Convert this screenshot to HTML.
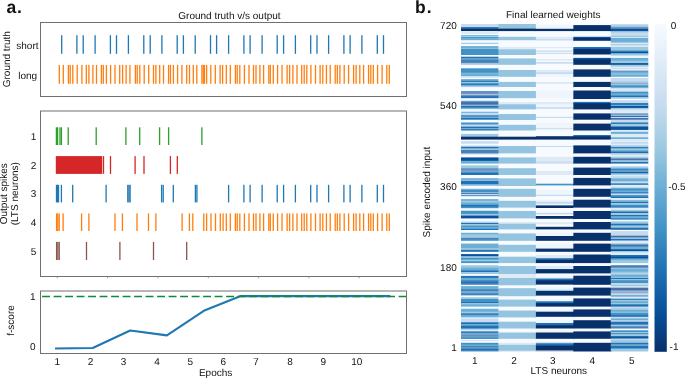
<!DOCTYPE html>
<html><head><meta charset="utf-8"><style>
html,body{margin:0;padding:0;background:#fff;}
body{width:685px;height:378px;overflow:hidden;}
svg{display:block;}
text{font-family:"Liberation Sans",sans-serif;text-rendering:geometricPrecision;}
svg{will-change:transform;}
</style></head><body>
<svg width="685" height="378" viewBox="0 0 685 378" font-family="Liberation Sans, sans-serif">
<rect width="685" height="378" fill="#fff"/>
<text x="6.4" y="12.7" font-size="17.5" text-anchor="start" font-weight="bold" fill="#111">a<tspan dx="0.9">.</tspan></text><text x="415.1" y="12.7" font-size="17.5" text-anchor="start" font-weight="bold" fill="#111">b<tspan dx="0.9">.</tspan></text><text x="178.3" y="18.7" font-size="10" text-anchor="start" fill="#111">Ground truth v/s output</text><text x="506.0" y="18.1" font-size="10" text-anchor="start" fill="#111">Final learned weights</text><rect x="61.05" y="35.2" width="1.3" height="18.60" fill="#1f77b4"/><rect x="76.25" y="35.2" width="1.3" height="18.60" fill="#1f77b4"/><rect x="82.55" y="35.2" width="1.3" height="18.60" fill="#1f77b4"/><rect x="94.45" y="35.2" width="1.3" height="18.60" fill="#1f77b4"/><rect x="109.75" y="35.2" width="1.3" height="18.60" fill="#1f77b4"/><rect x="115.85" y="35.2" width="1.3" height="18.60" fill="#1f77b4"/><rect x="127.75" y="35.2" width="1.3" height="18.60" fill="#1f77b4"/><rect x="143.15" y="35.2" width="1.3" height="18.60" fill="#1f77b4"/><rect x="149.55" y="35.2" width="1.3" height="18.60" fill="#1f77b4"/><rect x="161.25" y="35.2" width="1.3" height="18.60" fill="#1f77b4"/><rect x="176.55" y="35.2" width="1.3" height="18.60" fill="#1f77b4"/><rect x="182.75" y="35.2" width="1.3" height="18.60" fill="#1f77b4"/><rect x="194.55" y="35.2" width="1.3" height="18.60" fill="#1f77b4"/><rect x="209.85" y="35.2" width="1.3" height="18.60" fill="#1f77b4"/><rect x="215.95" y="35.2" width="1.3" height="18.60" fill="#1f77b4"/><rect x="227.95" y="35.2" width="1.3" height="18.60" fill="#1f77b4"/><rect x="243.25" y="35.2" width="1.3" height="18.60" fill="#1f77b4"/><rect x="249.45" y="35.2" width="1.3" height="18.60" fill="#1f77b4"/><rect x="261.45" y="35.2" width="1.3" height="18.60" fill="#1f77b4"/><rect x="276.55" y="35.2" width="1.3" height="18.60" fill="#1f77b4"/><rect x="282.95" y="35.2" width="1.3" height="18.60" fill="#1f77b4"/><rect x="294.75" y="35.2" width="1.3" height="18.60" fill="#1f77b4"/><rect x="310.05" y="35.2" width="1.3" height="18.60" fill="#1f77b4"/><rect x="316.35" y="35.2" width="1.3" height="18.60" fill="#1f77b4"/><rect x="327.95" y="35.2" width="1.3" height="18.60" fill="#1f77b4"/><rect x="343.25" y="35.2" width="1.3" height="18.60" fill="#1f77b4"/><rect x="349.45" y="35.2" width="1.3" height="18.60" fill="#1f77b4"/><rect x="361.25" y="35.2" width="1.3" height="18.60" fill="#1f77b4"/><rect x="376.65" y="35.2" width="1.3" height="18.60" fill="#1f77b4"/><rect x="382.85" y="35.2" width="1.3" height="18.60" fill="#1f77b4"/><rect x="58.65" y="64.9" width="1.3" height="18.90" fill="#ff7f0e"/><rect x="62.65" y="64.9" width="1.3" height="18.90" fill="#ff7f0e"/><rect x="67.75" y="64.9" width="1.3" height="18.90" fill="#ff7f0e"/><rect x="69.55" y="64.9" width="1.3" height="18.90" fill="#ff7f0e"/><rect x="72.15" y="64.9" width="1.3" height="18.90" fill="#ff7f0e"/><rect x="76.55" y="64.9" width="1.3" height="18.90" fill="#ff7f0e"/><rect x="81.25" y="64.9" width="1.3" height="18.90" fill="#ff7f0e"/><rect x="85.65" y="64.9" width="1.3" height="18.90" fill="#ff7f0e"/><rect x="88.25" y="64.9" width="1.3" height="18.90" fill="#ff7f0e"/><rect x="92.25" y="64.9" width="1.3" height="18.90" fill="#ff7f0e"/><rect x="95.85" y="64.9" width="1.3" height="18.90" fill="#ff7f0e"/><rect x="100.75" y="64.9" width="1.3" height="18.90" fill="#ff7f0e"/><rect x="102.65" y="64.9" width="1.3" height="18.90" fill="#ff7f0e"/><rect x="105.75" y="64.9" width="1.3" height="18.90" fill="#ff7f0e"/><rect x="109.95" y="64.9" width="1.3" height="18.90" fill="#ff7f0e"/><rect x="114.35" y="64.9" width="1.3" height="18.90" fill="#ff7f0e"/><rect x="119.05" y="64.9" width="1.3" height="18.90" fill="#ff7f0e"/><rect x="121.95" y="64.9" width="1.3" height="18.90" fill="#ff7f0e"/><rect x="125.45" y="64.9" width="1.3" height="18.90" fill="#ff7f0e"/><rect x="129.25" y="64.9" width="1.3" height="18.90" fill="#ff7f0e"/><rect x="134.75" y="64.9" width="1.3" height="18.90" fill="#ff7f0e"/><rect x="136.55" y="64.9" width="1.3" height="18.90" fill="#ff7f0e"/><rect x="139.15" y="64.9" width="1.3" height="18.90" fill="#ff7f0e"/><rect x="143.55" y="64.9" width="1.3" height="18.90" fill="#ff7f0e"/><rect x="148.05" y="64.9" width="1.3" height="18.90" fill="#ff7f0e"/><rect x="152.85" y="64.9" width="1.3" height="18.90" fill="#ff7f0e"/><rect x="155.25" y="64.9" width="1.3" height="18.90" fill="#ff7f0e"/><rect x="159.05" y="64.9" width="1.3" height="18.90" fill="#ff7f0e"/><rect x="162.85" y="64.9" width="1.3" height="18.90" fill="#ff7f0e"/><rect x="167.95" y="64.9" width="1.3" height="18.90" fill="#ff7f0e"/><rect x="169.85" y="64.9" width="1.3" height="18.90" fill="#ff7f0e"/><rect x="172.75" y="64.9" width="1.3" height="18.90" fill="#ff7f0e"/><rect x="176.95" y="64.9" width="1.3" height="18.90" fill="#ff7f0e"/><rect x="181.25" y="64.9" width="1.3" height="18.90" fill="#ff7f0e"/><rect x="186.05" y="64.9" width="1.3" height="18.90" fill="#ff7f0e"/><rect x="188.85" y="64.9" width="1.3" height="18.90" fill="#ff7f0e"/><rect x="192.65" y="64.9" width="1.3" height="18.90" fill="#ff7f0e"/><rect x="196.15" y="64.9" width="1.3" height="18.90" fill="#ff7f0e"/><rect x="201.25" y="64.9" width="1.3" height="18.90" fill="#ff7f0e"/><rect x="202.65" y="64.9" width="1.3" height="18.90" fill="#ff7f0e"/><rect x="203.75" y="64.9" width="1.3" height="18.90" fill="#ff7f0e"/><rect x="205.95" y="64.9" width="1.3" height="18.90" fill="#ff7f0e"/><rect x="210.15" y="64.9" width="1.3" height="18.90" fill="#ff7f0e"/><rect x="214.65" y="64.9" width="1.3" height="18.90" fill="#ff7f0e"/><rect x="219.45" y="64.9" width="1.3" height="18.90" fill="#ff7f0e"/><rect x="221.95" y="64.9" width="1.3" height="18.90" fill="#ff7f0e"/><rect x="225.65" y="64.9" width="1.3" height="18.90" fill="#ff7f0e"/><rect x="229.65" y="64.9" width="1.3" height="18.90" fill="#ff7f0e"/><rect x="234.75" y="64.9" width="1.3" height="18.90" fill="#ff7f0e"/><rect x="236.55" y="64.9" width="1.3" height="18.90" fill="#ff7f0e"/><rect x="239.15" y="64.9" width="1.3" height="18.90" fill="#ff7f0e"/><rect x="243.75" y="64.9" width="1.3" height="18.90" fill="#ff7f0e"/><rect x="248.35" y="64.9" width="1.3" height="18.90" fill="#ff7f0e"/><rect x="252.85" y="64.9" width="1.3" height="18.90" fill="#ff7f0e"/><rect x="255.35" y="64.9" width="1.3" height="18.90" fill="#ff7f0e"/><rect x="259.25" y="64.9" width="1.3" height="18.90" fill="#ff7f0e"/><rect x="262.95" y="64.9" width="1.3" height="18.90" fill="#ff7f0e"/><rect x="268.15" y="64.9" width="1.3" height="18.90" fill="#ff7f0e"/><rect x="269.65" y="64.9" width="1.3" height="18.90" fill="#ff7f0e"/><rect x="272.65" y="64.9" width="1.3" height="18.90" fill="#ff7f0e"/><rect x="276.95" y="64.9" width="1.3" height="18.90" fill="#ff7f0e"/><rect x="281.35" y="64.9" width="1.3" height="18.90" fill="#ff7f0e"/><rect x="286.45" y="64.9" width="1.3" height="18.90" fill="#ff7f0e"/><rect x="288.95" y="64.9" width="1.3" height="18.90" fill="#ff7f0e"/><rect x="292.25" y="64.9" width="1.3" height="18.90" fill="#ff7f0e"/><rect x="296.35" y="64.9" width="1.3" height="18.90" fill="#ff7f0e"/><rect x="301.05" y="64.9" width="1.3" height="18.90" fill="#ff7f0e"/><rect x="303.55" y="64.9" width="1.3" height="18.90" fill="#ff7f0e"/><rect x="306.15" y="64.9" width="1.3" height="18.90" fill="#ff7f0e"/><rect x="310.25" y="64.9" width="1.3" height="18.90" fill="#ff7f0e"/><rect x="314.85" y="64.9" width="1.3" height="18.90" fill="#ff7f0e"/><rect x="319.45" y="64.9" width="1.3" height="18.90" fill="#ff7f0e"/><rect x="322.15" y="64.9" width="1.3" height="18.90" fill="#ff7f0e"/><rect x="325.75" y="64.9" width="1.3" height="18.90" fill="#ff7f0e"/><rect x="329.55" y="64.9" width="1.3" height="18.90" fill="#ff7f0e"/><rect x="334.55" y="64.9" width="1.3" height="18.90" fill="#ff7f0e"/><rect x="336.65" y="64.9" width="1.3" height="18.90" fill="#ff7f0e"/><rect x="339.25" y="64.9" width="1.3" height="18.90" fill="#ff7f0e"/><rect x="343.55" y="64.9" width="1.3" height="18.90" fill="#ff7f0e"/><rect x="347.95" y="64.9" width="1.3" height="18.90" fill="#ff7f0e"/><rect x="352.95" y="64.9" width="1.3" height="18.90" fill="#ff7f0e"/><rect x="355.45" y="64.9" width="1.3" height="18.90" fill="#ff7f0e"/><rect x="359.15" y="64.9" width="1.3" height="18.90" fill="#ff7f0e"/><rect x="362.95" y="64.9" width="1.3" height="18.90" fill="#ff7f0e"/><rect x="367.95" y="64.9" width="1.3" height="18.90" fill="#ff7f0e"/><rect x="370.15" y="64.9" width="1.3" height="18.90" fill="#ff7f0e"/><rect x="372.65" y="64.9" width="1.3" height="18.90" fill="#ff7f0e"/><rect x="376.95" y="64.9" width="1.3" height="18.90" fill="#ff7f0e"/><rect x="381.45" y="64.9" width="1.3" height="18.90" fill="#ff7f0e"/><rect x="386.15" y="64.9" width="1.3" height="18.90" fill="#ff7f0e"/><rect x="388.65" y="64.9" width="1.3" height="18.90" fill="#ff7f0e"/><rect x="40.5" y="22.5" width="366.0" height="74.0" fill="none" stroke="#707070" stroke-width="1.0"/><text x="16.3" y="48.6" font-size="10" text-anchor="start" fill="#111">short</text><text x="18.2" y="79.0" font-size="10" text-anchor="start" fill="#111">long</text><text x="10.4" y="59.2" font-size="10" text-anchor="middle" fill="#111" transform="rotate(-90 10.4 59.2)">Ground truth</text><rect x="55.75" y="127.3" width="1.3" height="17.70" fill="#2ca02c"/><rect x="56.95" y="127.3" width="1.3" height="17.70" fill="#2ca02c"/><rect x="59.35" y="127.3" width="1.3" height="17.70" fill="#2ca02c"/><rect x="60.75" y="127.3" width="1.3" height="17.70" fill="#2ca02c"/><rect x="67.55" y="127.3" width="1.3" height="17.70" fill="#2ca02c"/><rect x="95.55" y="127.3" width="1.3" height="17.70" fill="#2ca02c"/><rect x="125.25" y="127.3" width="1.3" height="17.70" fill="#2ca02c"/><rect x="139.05" y="127.3" width="1.3" height="17.70" fill="#2ca02c"/><rect x="158.95" y="127.3" width="1.3" height="17.70" fill="#2ca02c"/><rect x="167.95" y="127.3" width="1.3" height="17.70" fill="#2ca02c"/><rect x="201.25" y="127.3" width="1.3" height="17.70" fill="#2ca02c"/><rect x="55.8" y="156.1" width="46.400000000000006" height="17.8" fill="#d62728"/><rect x="102.85" y="156.1" width="1.3" height="17.80" fill="#d62728"/><rect x="109.85" y="156.1" width="1.3" height="17.80" fill="#d62728"/><rect x="134.45" y="156.1" width="1.3" height="17.80" fill="#d62728"/><rect x="143.35" y="156.1" width="1.3" height="17.80" fill="#d62728"/><rect x="169.75" y="156.1" width="1.3" height="17.80" fill="#d62728"/><rect x="176.65" y="156.1" width="1.3" height="17.80" fill="#d62728"/><rect x="55.85" y="184.8" width="1.3" height="17.60" fill="#1f77b4"/><rect x="56.85" y="184.8" width="1.3" height="17.60" fill="#1f77b4"/><rect x="57.85" y="184.8" width="1.3" height="17.60" fill="#1f77b4"/><rect x="60.75" y="184.8" width="1.3" height="17.60" fill="#1f77b4"/><rect x="72.05" y="184.8" width="1.3" height="17.60" fill="#1f77b4"/><rect x="105.45" y="184.8" width="1.3" height="17.60" fill="#1f77b4"/><rect x="127.15" y="184.8" width="1.3" height="17.60" fill="#1f77b4"/><rect x="128.35" y="184.8" width="1.3" height="17.60" fill="#1f77b4"/><rect x="129.45" y="184.8" width="1.3" height="17.60" fill="#1f77b4"/><rect x="160.95" y="184.8" width="1.3" height="17.60" fill="#1f77b4"/><rect x="162.55" y="184.8" width="1.3" height="17.60" fill="#1f77b4"/><rect x="172.65" y="184.8" width="1.3" height="17.60" fill="#1f77b4"/><rect x="194.75" y="184.8" width="1.3" height="17.60" fill="#1f77b4"/><rect x="196.25" y="184.8" width="1.3" height="17.60" fill="#1f77b4"/><rect x="227.95" y="184.8" width="1.3" height="17.60" fill="#1f77b4"/><rect x="243.25" y="184.8" width="1.3" height="17.60" fill="#1f77b4"/><rect x="249.45" y="184.8" width="1.3" height="17.60" fill="#1f77b4"/><rect x="261.45" y="184.8" width="1.3" height="17.60" fill="#1f77b4"/><rect x="276.55" y="184.8" width="1.3" height="17.60" fill="#1f77b4"/><rect x="282.95" y="184.8" width="1.3" height="17.60" fill="#1f77b4"/><rect x="294.75" y="184.8" width="1.3" height="17.60" fill="#1f77b4"/><rect x="310.05" y="184.8" width="1.3" height="17.60" fill="#1f77b4"/><rect x="316.35" y="184.8" width="1.3" height="17.60" fill="#1f77b4"/><rect x="327.95" y="184.8" width="1.3" height="17.60" fill="#1f77b4"/><rect x="343.25" y="184.8" width="1.3" height="17.60" fill="#1f77b4"/><rect x="349.45" y="184.8" width="1.3" height="17.60" fill="#1f77b4"/><rect x="361.25" y="184.8" width="1.3" height="17.60" fill="#1f77b4"/><rect x="376.65" y="184.8" width="1.3" height="17.60" fill="#1f77b4"/><rect x="382.85" y="184.8" width="1.3" height="17.60" fill="#1f77b4"/><rect x="55.95" y="213.4" width="1.3" height="17.60" fill="#ff7f0e"/><rect x="57.15" y="213.4" width="1.3" height="17.60" fill="#ff7f0e"/><rect x="58.55" y="213.4" width="1.3" height="17.60" fill="#ff7f0e"/><rect x="62.45" y="213.4" width="1.3" height="17.60" fill="#ff7f0e"/><rect x="80.95" y="213.4" width="1.3" height="17.60" fill="#ff7f0e"/><rect x="88.25" y="213.4" width="1.3" height="17.60" fill="#ff7f0e"/><rect x="114.35" y="213.4" width="1.3" height="17.60" fill="#ff7f0e"/><rect x="121.75" y="213.4" width="1.3" height="17.60" fill="#ff7f0e"/><rect x="136.35" y="213.4" width="1.3" height="17.60" fill="#ff7f0e"/><rect x="147.85" y="213.4" width="1.3" height="17.60" fill="#ff7f0e"/><rect x="155.25" y="213.4" width="1.3" height="17.60" fill="#ff7f0e"/><rect x="181.45" y="213.4" width="1.3" height="17.60" fill="#ff7f0e"/><rect x="188.75" y="213.4" width="1.3" height="17.60" fill="#ff7f0e"/><rect x="192.15" y="213.4" width="1.3" height="17.60" fill="#ff7f0e"/><rect x="203.15" y="213.4" width="1.3" height="17.60" fill="#ff7f0e"/><rect x="205.95" y="213.4" width="1.3" height="17.60" fill="#ff7f0e"/><rect x="210.35" y="213.4" width="1.3" height="17.60" fill="#ff7f0e"/><rect x="214.85" y="213.4" width="1.3" height="17.60" fill="#ff7f0e"/><rect x="219.65" y="213.4" width="1.3" height="17.60" fill="#ff7f0e"/><rect x="222.45" y="213.4" width="1.3" height="17.60" fill="#ff7f0e"/><rect x="225.65" y="213.4" width="1.3" height="17.60" fill="#ff7f0e"/><rect x="229.65" y="213.4" width="1.3" height="17.60" fill="#ff7f0e"/><rect x="234.75" y="213.4" width="1.3" height="17.60" fill="#ff7f0e"/><rect x="236.55" y="213.4" width="1.3" height="17.60" fill="#ff7f0e"/><rect x="239.15" y="213.4" width="1.3" height="17.60" fill="#ff7f0e"/><rect x="243.75" y="213.4" width="1.3" height="17.60" fill="#ff7f0e"/><rect x="248.35" y="213.4" width="1.3" height="17.60" fill="#ff7f0e"/><rect x="252.85" y="213.4" width="1.3" height="17.60" fill="#ff7f0e"/><rect x="255.35" y="213.4" width="1.3" height="17.60" fill="#ff7f0e"/><rect x="259.25" y="213.4" width="1.3" height="17.60" fill="#ff7f0e"/><rect x="262.95" y="213.4" width="1.3" height="17.60" fill="#ff7f0e"/><rect x="268.15" y="213.4" width="1.3" height="17.60" fill="#ff7f0e"/><rect x="269.65" y="213.4" width="1.3" height="17.60" fill="#ff7f0e"/><rect x="272.65" y="213.4" width="1.3" height="17.60" fill="#ff7f0e"/><rect x="276.95" y="213.4" width="1.3" height="17.60" fill="#ff7f0e"/><rect x="281.35" y="213.4" width="1.3" height="17.60" fill="#ff7f0e"/><rect x="286.45" y="213.4" width="1.3" height="17.60" fill="#ff7f0e"/><rect x="288.95" y="213.4" width="1.3" height="17.60" fill="#ff7f0e"/><rect x="292.25" y="213.4" width="1.3" height="17.60" fill="#ff7f0e"/><rect x="296.35" y="213.4" width="1.3" height="17.60" fill="#ff7f0e"/><rect x="301.05" y="213.4" width="1.3" height="17.60" fill="#ff7f0e"/><rect x="303.55" y="213.4" width="1.3" height="17.60" fill="#ff7f0e"/><rect x="306.15" y="213.4" width="1.3" height="17.60" fill="#ff7f0e"/><rect x="310.25" y="213.4" width="1.3" height="17.60" fill="#ff7f0e"/><rect x="314.85" y="213.4" width="1.3" height="17.60" fill="#ff7f0e"/><rect x="319.45" y="213.4" width="1.3" height="17.60" fill="#ff7f0e"/><rect x="322.15" y="213.4" width="1.3" height="17.60" fill="#ff7f0e"/><rect x="325.75" y="213.4" width="1.3" height="17.60" fill="#ff7f0e"/><rect x="329.55" y="213.4" width="1.3" height="17.60" fill="#ff7f0e"/><rect x="334.55" y="213.4" width="1.3" height="17.60" fill="#ff7f0e"/><rect x="336.65" y="213.4" width="1.3" height="17.60" fill="#ff7f0e"/><rect x="339.25" y="213.4" width="1.3" height="17.60" fill="#ff7f0e"/><rect x="343.55" y="213.4" width="1.3" height="17.60" fill="#ff7f0e"/><rect x="347.95" y="213.4" width="1.3" height="17.60" fill="#ff7f0e"/><rect x="352.95" y="213.4" width="1.3" height="17.60" fill="#ff7f0e"/><rect x="355.45" y="213.4" width="1.3" height="17.60" fill="#ff7f0e"/><rect x="359.15" y="213.4" width="1.3" height="17.60" fill="#ff7f0e"/><rect x="362.95" y="213.4" width="1.3" height="17.60" fill="#ff7f0e"/><rect x="367.95" y="213.4" width="1.3" height="17.60" fill="#ff7f0e"/><rect x="370.15" y="213.4" width="1.3" height="17.60" fill="#ff7f0e"/><rect x="372.65" y="213.4" width="1.3" height="17.60" fill="#ff7f0e"/><rect x="376.95" y="213.4" width="1.3" height="17.60" fill="#ff7f0e"/><rect x="381.45" y="213.4" width="1.3" height="17.60" fill="#ff7f0e"/><rect x="386.15" y="213.4" width="1.3" height="17.60" fill="#ff7f0e"/><rect x="388.65" y="213.4" width="1.3" height="17.60" fill="#ff7f0e"/><rect x="55.95" y="241.9" width="1.3" height="18.10" fill="#8c564b"/><rect x="57.25" y="241.9" width="1.3" height="18.10" fill="#8c564b"/><rect x="58.55" y="241.9" width="1.3" height="18.10" fill="#8c564b"/><rect x="85.85" y="241.9" width="1.3" height="18.10" fill="#8c564b"/><rect x="119.25" y="241.9" width="1.3" height="18.10" fill="#8c564b"/><rect x="152.85" y="241.9" width="1.3" height="18.10" fill="#8c564b"/><rect x="186.05" y="241.9" width="1.3" height="18.10" fill="#8c564b"/><rect x="40.5" y="111.0" width="366.0" height="165.5" fill="none" stroke="#707070" stroke-width="1.0"/><rect x="56.8" y="276.6" width="1" height="1.6" fill="#999"/><rect x="107.1" y="276.6" width="1" height="1.6" fill="#999"/><rect x="157.5" y="276.6" width="1" height="1.6" fill="#999"/><rect x="207.8" y="276.6" width="1" height="1.6" fill="#999"/><rect x="258.1" y="276.6" width="1" height="1.6" fill="#999"/><rect x="308.4" y="276.6" width="1" height="1.6" fill="#999"/><rect x="358.7" y="276.6" width="1" height="1.6" fill="#999"/><text x="36.4" y="139.79999999999998" font-size="10" text-anchor="end" fill="#111">1</text><text x="36.4" y="168.6" font-size="10" text-anchor="end" fill="#111">2</text><text x="36.4" y="197.2" font-size="10" text-anchor="end" fill="#111">3</text><text x="36.4" y="225.79999999999998" font-size="10" text-anchor="end" fill="#111">4</text><text x="36.4" y="254.6" font-size="10" text-anchor="end" fill="#111">5</text><text x="7.0" y="193.7" font-size="10" text-anchor="middle" fill="#111" transform="rotate(-90 7.0 193.7)">Output spikes</text><text x="18.3" y="193.7" font-size="10" text-anchor="middle" fill="#111" transform="rotate(-90 18.3 193.7)">(LTS neurons)</text><polyline points="55,348.5 92.7,348.0 130.2,330.5 166.9,335.4 203.8,310.8 240.7,296.1 390.3,296.1" fill="none" stroke="#1f77b4" stroke-width="2.1" stroke-linejoin="round"/><line x1="42.1" y1="296.5" x2="406" y2="296.5" stroke="#0f8a3c" stroke-width="1.4" stroke-dasharray="7.9 3.6"/><rect x="40.5" y="291.0" width="366.0" height="62.5" fill="none" stroke="#707070" stroke-width="1.0"/><text x="35.6" y="300.0" font-size="10" text-anchor="end" fill="#111">1</text><text x="35.6" y="350.4" font-size="10" text-anchor="end" fill="#111">0</text><text x="13.6" y="320.5" font-size="10" text-anchor="middle" fill="#111" transform="rotate(-90 13.6 320.5)">f-score</text><text x="57.3" y="365.3" font-size="10" text-anchor="middle" fill="#111">1</text><text x="90.5" y="365.3" font-size="10" text-anchor="middle" fill="#111">2</text><text x="123.6" y="365.3" font-size="10" text-anchor="middle" fill="#111">3</text><text x="157.0" y="365.3" font-size="10" text-anchor="middle" fill="#111">4</text><text x="190.3" y="365.3" font-size="10" text-anchor="middle" fill="#111">5</text><text x="223.2" y="365.3" font-size="10" text-anchor="middle" fill="#111">6</text><text x="256.0" y="365.3" font-size="10" text-anchor="middle" fill="#111">7</text><text x="290.0" y="365.3" font-size="10" text-anchor="middle" fill="#111">8</text><text x="323.4" y="365.3" font-size="10" text-anchor="middle" fill="#111">9</text><text x="356.8" y="365.3" font-size="10" text-anchor="middle" fill="#111">10</text><text x="215.6" y="375.9" font-size="10" text-anchor="middle" fill="#111">Epochs</text><rect x="461.00" y="24.0" width="38.15" height="3.80" fill="#c6dbef"/><rect x="461.00" y="27.1" width="38.15" height="2.40" fill="#2171b5"/><rect x="461.00" y="28.8" width="38.15" height="3.00" fill="#08306b"/><rect x="461.00" y="31.1" width="38.15" height="1.60" fill="#f7fbff"/><rect x="461.00" y="32.0" width="38.15" height="2.70" fill="#deebf7"/><rect x="461.00" y="34.0" width="38.15" height="1.80" fill="#f7fbff"/><rect x="461.00" y="35.1" width="38.15" height="1.50" fill="#6baed6"/><rect x="461.00" y="35.9" width="38.15" height="1.60" fill="#c6dbef"/><rect x="461.00" y="36.8" width="38.15" height="1.60" fill="#4292c6"/><rect x="461.00" y="37.7" width="38.15" height="3.20" fill="#6baed6"/><rect x="461.00" y="40.2" width="38.15" height="3.30" fill="#f7fbff"/><rect x="461.00" y="42.8" width="38.15" height="1.80" fill="#9ecae1"/><rect x="461.00" y="43.9" width="38.15" height="2.90" fill="#f7fbff"/><rect x="461.00" y="46.1" width="38.15" height="2.60" fill="#6baed6"/><rect x="461.00" y="48.0" width="38.15" height="1.50" fill="#9ecae1"/><rect x="461.00" y="48.8" width="38.15" height="6.90" fill="#4292c6"/><rect x="461.00" y="55.0" width="38.15" height="2.40" fill="#f7fbff"/><rect x="461.00" y="56.7" width="38.15" height="2.20" fill="#2171b5"/><rect x="461.00" y="58.2" width="38.15" height="2.10" fill="#6baed6"/><rect x="461.00" y="59.6" width="38.15" height="4.00" fill="#4a7fb5"/><rect x="461.00" y="62.9" width="38.15" height="2.60" fill="#9ecae1"/><rect x="461.00" y="64.8" width="38.15" height="4.20" fill="#f7fbff"/><rect x="461.00" y="68.3" width="38.15" height="5.20" fill="#4292c6"/><rect x="461.00" y="72.8" width="38.15" height="1.30" fill="#9ecae1"/><rect x="461.00" y="73.4" width="38.15" height="3.50" fill="#6baed6"/><rect x="461.00" y="76.2" width="38.15" height="2.50" fill="#deebf7"/><rect x="461.00" y="78.0" width="38.15" height="1.80" fill="#f7fbff"/><rect x="461.00" y="79.1" width="38.15" height="2.40" fill="#6baed6"/><rect x="461.00" y="80.8" width="38.15" height="1.80" fill="#2171b5"/><rect x="461.00" y="81.9" width="38.15" height="2.20" fill="#9ecae1"/><rect x="461.00" y="83.4" width="38.15" height="2.10" fill="#2171b5"/><rect x="461.00" y="84.8" width="38.15" height="2.40" fill="#6baed6"/><rect x="461.00" y="86.5" width="38.15" height="1.50" fill="#deebf7"/><rect x="461.00" y="87.3" width="38.15" height="4.40" fill="#f7fbff"/><rect x="461.00" y="91.0" width="38.15" height="3.60" fill="#6b8fbf"/><rect x="461.00" y="93.9" width="38.15" height="1.80" fill="#9ecae1"/><rect x="461.00" y="95.0" width="38.15" height="1.90" fill="#6b8fbf"/><rect x="461.00" y="96.2" width="38.15" height="2.70" fill="#2171b5"/><rect x="461.00" y="98.2" width="38.15" height="3.20" fill="#f7fbff"/><rect x="461.00" y="100.7" width="38.15" height="1.80" fill="#6baed6"/><rect x="461.00" y="101.8" width="38.15" height="3.60" fill="#4a6fa8"/><rect x="461.00" y="104.7" width="38.15" height="1.80" fill="#9ecae1"/><rect x="461.00" y="105.8" width="38.15" height="2.50" fill="#2171b5"/><rect x="461.00" y="107.6" width="38.15" height="1.90" fill="#6baed6"/><rect x="461.00" y="108.8" width="38.15" height="1.30" fill="#c6dbef"/><rect x="461.00" y="109.4" width="38.15" height="3.00" fill="#f7fbff"/><rect x="461.00" y="111.7" width="38.15" height="1.80" fill="#6baed6"/><rect x="461.00" y="112.8" width="38.15" height="3.00" fill="#c6dbef"/><rect x="461.00" y="115.1" width="38.15" height="2.40" fill="#4292c6"/><rect x="461.00" y="116.8" width="38.15" height="1.90" fill="#6baed6"/><rect x="461.00" y="118.0" width="38.15" height="2.40" fill="#2171b5"/><rect x="461.00" y="119.7" width="38.15" height="3.50" fill="#f7fbff"/><rect x="461.00" y="122.5" width="38.15" height="2.70" fill="#4292c6"/><rect x="461.00" y="124.5" width="38.15" height="2.80" fill="#c6dbef"/><rect x="461.00" y="126.6" width="38.15" height="2.10" fill="#2171b5"/><rect x="461.00" y="128.0" width="38.15" height="1.90" fill="#6baed6"/><rect x="461.00" y="129.2" width="38.15" height="2.00" fill="#2171b5"/><rect x="461.00" y="130.5" width="38.15" height="4.10" fill="#f7fbff"/><rect x="461.00" y="133.9" width="38.15" height="3.50" fill="#9ecae1"/><rect x="461.00" y="136.7" width="38.15" height="3.60" fill="#08306b"/><rect x="461.00" y="139.6" width="38.15" height="2.40" fill="#f7fbff"/><rect x="461.00" y="141.3" width="38.15" height="3.10" fill="#c6dbef"/><rect x="461.00" y="143.7" width="38.15" height="2.40" fill="#f7fbff"/><rect x="461.00" y="145.4" width="38.15" height="2.10" fill="#c6dbef"/><rect x="461.00" y="146.8" width="38.15" height="2.20" fill="#2171b5"/><rect x="461.00" y="148.3" width="38.15" height="2.40" fill="#9ecae1"/><rect x="461.00" y="150.0" width="38.15" height="4.10" fill="#4a7fb5"/><rect x="461.00" y="153.4" width="38.15" height="1.80" fill="#c6dbef"/><rect x="461.00" y="154.5" width="38.15" height="3.60" fill="#f7fbff"/><rect x="461.00" y="157.4" width="38.15" height="4.10" fill="#08519c"/><rect x="461.00" y="160.8" width="38.15" height="3.50" fill="#6baed6"/><rect x="461.00" y="163.6" width="38.15" height="2.40" fill="#f7fbff"/><rect x="461.00" y="165.3" width="38.15" height="3.60" fill="#9ecae1"/><rect x="461.00" y="168.2" width="38.15" height="3.00" fill="#6b8fbf"/><rect x="461.00" y="170.5" width="38.15" height="2.70" fill="#6baed6"/><rect x="461.00" y="172.5" width="38.15" height="3.20" fill="#2171b5"/><rect x="461.00" y="175.0" width="38.15" height="4.10" fill="#f7fbff"/><rect x="461.00" y="178.4" width="38.15" height="1.90" fill="#4292c6"/><rect x="461.00" y="179.6" width="38.15" height="1.80" fill="#c6dbef"/><rect x="461.00" y="180.7" width="38.15" height="4.30" fill="#2171b5"/><rect x="461.00" y="184.3" width="38.15" height="2.40" fill="#9ecae1"/><rect x="461.00" y="186.0" width="38.15" height="3.50" fill="#f7fbff"/><rect x="461.00" y="188.8" width="38.15" height="2.40" fill="#6baed6"/><rect x="461.00" y="190.5" width="38.15" height="1.90" fill="#2171b5"/><rect x="461.00" y="191.7" width="38.15" height="1.80" fill="#9ecae1"/><rect x="461.00" y="192.8" width="38.15" height="1.90" fill="#4a7fb5"/><rect x="461.00" y="194.0" width="38.15" height="1.80" fill="#c6dbef"/><rect x="461.00" y="195.1" width="38.15" height="1.80" fill="#4292c6"/><rect x="461.00" y="196.2" width="38.15" height="3.60" fill="#f7fbff"/><rect x="461.00" y="199.1" width="38.15" height="2.40" fill="#6baed6"/><rect x="461.00" y="200.8" width="38.15" height="2.40" fill="#9ecae1"/><rect x="461.00" y="202.5" width="38.15" height="3.00" fill="#6baed6"/><rect x="461.00" y="204.8" width="38.15" height="2.40" fill="#2171b5"/><rect x="461.00" y="206.5" width="38.15" height="2.40" fill="#4292c6"/><rect x="461.00" y="208.2" width="38.15" height="2.40" fill="#f7fbff"/><rect x="461.00" y="209.9" width="38.15" height="1.80" fill="#c6dbef"/><rect x="461.00" y="211.0" width="38.15" height="3.60" fill="#4292c6"/><rect x="461.00" y="213.9" width="38.15" height="2.40" fill="#9ecae1"/><rect x="461.00" y="215.6" width="38.15" height="3.50" fill="#08519c"/><rect x="461.00" y="218.4" width="38.15" height="3.60" fill="#f7fbff"/><rect x="461.00" y="221.3" width="38.15" height="2.30" fill="#c6dbef"/><rect x="461.00" y="222.9" width="38.15" height="1.80" fill="#2171b5"/><rect x="461.00" y="224.0" width="38.15" height="2.30" fill="#9ecae1"/><rect x="461.00" y="225.6" width="38.15" height="1.90" fill="#4292c6"/><rect x="461.00" y="226.8" width="38.15" height="2.70" fill="#6baed6"/><rect x="461.00" y="228.8" width="38.15" height="1.90" fill="#2171b5"/><rect x="461.00" y="230.0" width="38.15" height="3.50" fill="#f7fbff"/><rect x="461.00" y="232.8" width="38.15" height="2.20" fill="#6baed6"/><rect x="461.00" y="234.3" width="38.15" height="4.30" fill="#9ecae1"/><rect x="461.00" y="237.9" width="38.15" height="1.90" fill="#4a7fb5"/><rect x="461.00" y="239.1" width="38.15" height="2.40" fill="#4292c6"/><rect x="461.00" y="240.8" width="38.15" height="3.50" fill="#f7fbff"/><rect x="461.00" y="243.6" width="38.15" height="5.30" fill="#6baed6"/><rect x="461.00" y="248.2" width="38.15" height="2.40" fill="#9ecae1"/><rect x="461.00" y="249.9" width="38.15" height="2.60" fill="#2171b5"/><rect x="461.00" y="251.8" width="38.15" height="3.00" fill="#f7fbff"/><rect x="461.00" y="254.1" width="38.15" height="2.80" fill="#08519c"/><rect x="461.00" y="256.2" width="38.15" height="2.40" fill="#9ecae1"/><rect x="461.00" y="257.9" width="38.15" height="2.40" fill="#4292c6"/><rect x="461.00" y="259.6" width="38.15" height="2.40" fill="#9ecae1"/><rect x="461.00" y="261.3" width="38.15" height="2.50" fill="#4292c6"/><rect x="461.00" y="263.1" width="38.15" height="2.80" fill="#f7fbff"/><rect x="461.00" y="265.2" width="38.15" height="3.20" fill="#9ecae1"/><rect x="461.00" y="267.7" width="38.15" height="3.50" fill="#6baed6"/><rect x="461.00" y="270.5" width="38.15" height="2.20" fill="#2171b5"/><rect x="461.00" y="272.0" width="38.15" height="2.70" fill="#9ecae1"/><rect x="461.00" y="274.0" width="38.15" height="2.60" fill="#f7fbff"/><rect x="461.00" y="275.9" width="38.15" height="2.70" fill="#2171b5"/><rect x="461.00" y="277.9" width="38.15" height="2.80" fill="#6baed6"/><rect x="461.00" y="280.0" width="38.15" height="2.30" fill="#4292c6"/><rect x="461.00" y="281.6" width="38.15" height="2.20" fill="#2171b5"/><rect x="461.00" y="283.1" width="38.15" height="2.40" fill="#4a7fb5"/><rect x="461.00" y="284.8" width="38.15" height="2.00" fill="#f7fbff"/><rect x="461.00" y="286.1" width="38.15" height="3.90" fill="#6baed6"/><rect x="461.00" y="289.3" width="38.15" height="2.40" fill="#4a7fb5"/><rect x="461.00" y="291.0" width="38.15" height="3.00" fill="#6baed6"/><rect x="461.00" y="293.3" width="38.15" height="2.40" fill="#4a7fb5"/><rect x="461.00" y="295.0" width="38.15" height="1.50" fill="#9ecae1"/><rect x="461.00" y="295.8" width="38.15" height="2.10" fill="#f7fbff"/><rect x="461.00" y="297.2" width="38.15" height="2.50" fill="#9ecae1"/><rect x="461.00" y="299.0" width="38.15" height="3.70" fill="#4292c6"/><rect x="461.00" y="302.0" width="38.15" height="1.80" fill="#2171b5"/><rect x="461.00" y="303.1" width="38.15" height="1.90" fill="#9ecae1"/><rect x="461.00" y="304.3" width="38.15" height="3.00" fill="#6baed6"/><rect x="461.00" y="306.6" width="38.15" height="2.90" fill="#f7fbff"/><rect x="461.00" y="308.8" width="38.15" height="3.60" fill="#6baed6"/><rect x="461.00" y="311.7" width="38.15" height="2.40" fill="#9ecae1"/><rect x="461.00" y="313.4" width="38.15" height="2.10" fill="#2171b5"/><rect x="461.00" y="314.8" width="38.15" height="3.30" fill="#6baed6"/><rect x="461.00" y="317.4" width="38.15" height="1.80" fill="#f7fbff"/><rect x="461.00" y="318.5" width="38.15" height="4.50" fill="#c6dbef"/><rect x="461.00" y="322.3" width="38.15" height="2.40" fill="#2171b5"/><rect x="461.00" y="324.0" width="38.15" height="2.40" fill="#6baed6"/><rect x="461.00" y="325.7" width="38.15" height="3.50" fill="#2171b5"/><rect x="461.00" y="328.5" width="38.15" height="1.90" fill="#9ecae1"/><rect x="461.00" y="329.7" width="38.15" height="2.40" fill="#deebf7"/><rect x="461.00" y="331.4" width="38.15" height="2.10" fill="#2171b5"/><rect x="461.00" y="332.8" width="38.15" height="2.70" fill="#6baed6"/><rect x="461.00" y="334.8" width="38.15" height="2.40" fill="#6b8fbf"/><rect x="461.00" y="336.5" width="38.15" height="1.90" fill="#6baed6"/><rect x="461.00" y="337.7" width="38.15" height="1.80" fill="#2171b5"/><rect x="461.00" y="338.8" width="38.15" height="2.20" fill="#f7fbff"/><rect x="461.00" y="340.3" width="38.15" height="1.50" fill="#c6dbef"/><rect x="461.00" y="341.1" width="38.15" height="2.40" fill="#f7fbff"/><rect x="461.00" y="342.8" width="38.15" height="2.40" fill="#4292c6"/><rect x="461.00" y="344.5" width="38.15" height="2.20" fill="#6baed6"/><rect x="461.00" y="346.0" width="38.15" height="2.00" fill="#4a7fb5"/><rect x="461.00" y="347.3" width="38.15" height="1.90" fill="#6baed6"/><rect x="461.00" y="348.5" width="38.15" height="3.00" fill="#2171b5"/><rect x="461.00" y="350.8" width="38.15" height="0.70" fill="#c6dbef"/><rect x="498.45" y="24.0" width="38.15" height="5.30" fill="#94c4df"/><rect x="498.45" y="28.6" width="38.15" height="3.20" fill="#08306b"/><rect x="498.45" y="31.1" width="38.15" height="6.40" fill="#f7fbff"/><rect x="498.45" y="36.8" width="38.15" height="4.10" fill="#94c4df"/><rect x="498.45" y="40.2" width="38.15" height="7.50" fill="#f7fbff"/><rect x="498.45" y="47.0" width="38.15" height="3.00" fill="#deebf7"/><rect x="498.45" y="49.3" width="38.15" height="6.40" fill="#94c4df"/><rect x="498.45" y="55.0" width="38.15" height="4.10" fill="#f7fbff"/><rect x="498.45" y="58.4" width="38.15" height="7.10" fill="#94c4df"/><rect x="498.45" y="64.8" width="38.15" height="5.90" fill="#f7fbff"/><rect x="498.45" y="70.0" width="38.15" height="7.50" fill="#94c4df"/><rect x="498.45" y="76.8" width="38.15" height="5.80" fill="#f7fbff"/><rect x="498.45" y="81.9" width="38.15" height="5.80" fill="#94c4df"/><rect x="498.45" y="87.0" width="38.15" height="4.70" fill="#f7fbff"/><rect x="498.45" y="91.0" width="38.15" height="7.90" fill="#94c4df"/><rect x="498.45" y="98.2" width="38.15" height="4.50" fill="#f7fbff"/><rect x="498.45" y="102.0" width="38.15" height="3.00" fill="#deebf7"/><rect x="498.45" y="104.3" width="38.15" height="5.80" fill="#94c4df"/><rect x="498.45" y="109.4" width="38.15" height="5.30" fill="#f7fbff"/><rect x="498.45" y="114.0" width="38.15" height="6.70" fill="#94c4df"/><rect x="498.45" y="120.0" width="38.15" height="5.50" fill="#f7fbff"/><rect x="498.45" y="124.8" width="38.15" height="6.40" fill="#94c4df"/><rect x="498.45" y="130.5" width="38.15" height="6.90" fill="#f7fbff"/><rect x="498.45" y="136.7" width="38.15" height="3.60" fill="#08306b"/><rect x="498.45" y="139.6" width="38.15" height="7.10" fill="#f7fbff"/><rect x="498.45" y="146.0" width="38.15" height="8.10" fill="#94c4df"/><rect x="498.45" y="153.4" width="38.15" height="4.70" fill="#f7fbff"/><rect x="498.45" y="157.4" width="38.15" height="6.90" fill="#94c4df"/><rect x="498.45" y="163.6" width="38.15" height="5.30" fill="#f7fbff"/><rect x="498.45" y="168.2" width="38.15" height="7.50" fill="#94c4df"/><rect x="498.45" y="175.0" width="38.15" height="4.10" fill="#f7fbff"/><rect x="498.45" y="178.4" width="38.15" height="8.30" fill="#94c4df"/><rect x="498.45" y="186.0" width="38.15" height="3.50" fill="#f7fbff"/><rect x="498.45" y="188.8" width="38.15" height="8.70" fill="#94c4df"/><rect x="498.45" y="196.8" width="38.15" height="4.70" fill="#f7fbff"/><rect x="498.45" y="200.8" width="38.15" height="7.50" fill="#94c4df"/><rect x="498.45" y="207.6" width="38.15" height="4.10" fill="#f7fbff"/><rect x="498.45" y="211.0" width="38.15" height="8.10" fill="#94c4df"/><rect x="498.45" y="218.4" width="38.15" height="4.30" fill="#f7fbff"/><rect x="498.45" y="222.0" width="38.15" height="2.40" fill="#deebf7"/><rect x="498.45" y="223.7" width="38.15" height="6.40" fill="#94c4df"/><rect x="498.45" y="229.4" width="38.15" height="4.70" fill="#f7fbff"/><rect x="498.45" y="233.4" width="38.15" height="8.10" fill="#94c4df"/><rect x="498.45" y="240.8" width="38.15" height="4.70" fill="#f7fbff"/><rect x="498.45" y="244.8" width="38.15" height="7.70" fill="#94c4df"/><rect x="498.45" y="251.8" width="38.15" height="5.60" fill="#f7fbff"/><rect x="498.45" y="256.7" width="38.15" height="7.10" fill="#94c4df"/><rect x="498.45" y="263.1" width="38.15" height="3.60" fill="#f7fbff"/><rect x="498.45" y="266.0" width="38.15" height="8.70" fill="#94c4df"/><rect x="498.45" y="274.0" width="38.15" height="4.70" fill="#deebf7"/><rect x="498.45" y="278.0" width="38.15" height="8.00" fill="#94c4df"/><rect x="498.45" y="285.3" width="38.15" height="3.60" fill="#f7fbff"/><rect x="498.45" y="288.2" width="38.15" height="8.70" fill="#94c4df"/><rect x="498.45" y="296.2" width="38.15" height="4.10" fill="#f7fbff"/><rect x="498.45" y="299.6" width="38.15" height="7.70" fill="#94c4df"/><rect x="498.45" y="306.6" width="38.15" height="4.60" fill="#f7fbff"/><rect x="498.45" y="310.5" width="38.15" height="7.60" fill="#94c4df"/><rect x="498.45" y="317.4" width="38.15" height="5.00" fill="#f7fbff"/><rect x="498.45" y="321.7" width="38.15" height="7.50" fill="#94c4df"/><rect x="498.45" y="328.5" width="38.15" height="4.70" fill="#f7fbff"/><rect x="498.45" y="332.5" width="38.15" height="7.00" fill="#94c4df"/><rect x="498.45" y="338.8" width="38.15" height="4.70" fill="#f7fbff"/><rect x="498.45" y="342.8" width="38.15" height="2.70" fill="#deebf7"/><rect x="498.45" y="344.8" width="38.15" height="6.70" fill="#94c4df"/><rect x="498.45" y="350.8" width="38.15" height="0.70" fill="#f7fbff"/><rect x="535.90" y="24.0" width="38.15" height="1.80" fill="#f7fbff"/><rect x="535.90" y="25.1" width="38.15" height="4.40" fill="#eef5fc"/><rect x="535.90" y="28.8" width="38.15" height="3.00" fill="#08306b"/><rect x="535.90" y="31.1" width="38.15" height="6.40" fill="#f7fbff"/><rect x="535.90" y="36.8" width="38.15" height="2.80" fill="#deebf7"/><rect x="535.90" y="38.9" width="38.15" height="2.30" fill="#c6dbef"/><rect x="535.90" y="40.5" width="38.15" height="7.20" fill="#f7fbff"/><rect x="535.90" y="47.0" width="38.15" height="1.90" fill="#deebf7"/><rect x="535.90" y="48.2" width="38.15" height="3.00" fill="#f7fbff"/><rect x="535.90" y="50.5" width="38.15" height="2.00" fill="#c6dbef"/><rect x="535.90" y="51.8" width="38.15" height="1.70" fill="#f7fbff"/><rect x="535.90" y="52.8" width="38.15" height="1.80" fill="#c6dbef"/><rect x="535.90" y="53.9" width="38.15" height="5.80" fill="#f7fbff"/><rect x="535.90" y="59.0" width="38.15" height="2.40" fill="#deebf7"/><rect x="535.90" y="60.7" width="38.15" height="2.00" fill="#f7fbff"/><rect x="535.90" y="62.0" width="38.15" height="2.40" fill="#c6dbef"/><rect x="535.90" y="63.7" width="38.15" height="7.00" fill="#f7fbff"/><rect x="535.90" y="70.0" width="38.15" height="3.00" fill="#deebf7"/><rect x="535.90" y="72.3" width="38.15" height="2.40" fill="#c6dbef"/><rect x="535.90" y="74.0" width="38.15" height="3.50" fill="#eef5fc"/><rect x="535.90" y="76.8" width="38.15" height="6.40" fill="#f7fbff"/><rect x="535.90" y="82.5" width="38.15" height="1.80" fill="#c6dbef"/><rect x="535.90" y="83.6" width="38.15" height="7.60" fill="#f7fbff"/><rect x="535.90" y="90.5" width="38.15" height="8.60" fill="#eef5fc"/><rect x="535.90" y="98.4" width="38.15" height="4.30" fill="#f7fbff"/><rect x="535.90" y="102.0" width="38.15" height="3.00" fill="#deebf7"/><rect x="535.90" y="104.3" width="38.15" height="3.50" fill="#eef5fc"/><rect x="535.90" y="107.1" width="38.15" height="2.40" fill="#c6dbef"/><rect x="535.90" y="108.8" width="38.15" height="8.70" fill="#f7fbff"/><rect x="535.90" y="116.8" width="38.15" height="1.90" fill="#c6dbef"/><rect x="535.90" y="118.0" width="38.15" height="5.70" fill="#f7fbff"/><rect x="535.90" y="123.0" width="38.15" height="5.90" fill="#eef5fc"/><rect x="535.90" y="128.2" width="38.15" height="1.80" fill="#c6dbef"/><rect x="535.90" y="129.3" width="38.15" height="7.60" fill="#f7fbff"/><rect x="535.90" y="136.2" width="38.15" height="4.10" fill="#08306b"/><rect x="535.90" y="139.6" width="38.15" height="7.10" fill="#f7fbff"/><rect x="535.90" y="146.0" width="38.15" height="1.80" fill="#c6dbef"/><rect x="535.90" y="147.1" width="38.15" height="10.40" fill="#f7fbff"/><rect x="535.90" y="156.8" width="38.15" height="5.40" fill="#deebf7"/><rect x="535.90" y="161.5" width="38.15" height="2.80" fill="#c6dbef"/><rect x="535.90" y="163.6" width="38.15" height="8.10" fill="#f7fbff"/><rect x="535.90" y="171.0" width="38.15" height="4.70" fill="#deebf7"/><rect x="535.90" y="175.0" width="38.15" height="9.40" fill="#f7fbff"/><rect x="535.90" y="183.7" width="38.15" height="2.40" fill="#4292c6"/><rect x="535.90" y="185.4" width="38.15" height="5.30" fill="#f7fbff"/><rect x="535.90" y="190.0" width="38.15" height="5.50" fill="#eef5fc"/><rect x="535.90" y="194.8" width="38.15" height="1.90" fill="#c6dbef"/><rect x="535.90" y="196.0" width="38.15" height="5.30" fill="#f7fbff"/><rect x="535.90" y="200.6" width="38.15" height="2.10" fill="#deebf7"/><rect x="535.90" y="202.0" width="38.15" height="2.50" fill="#c6dbef"/><rect x="535.90" y="203.8" width="38.15" height="2.30" fill="#eef5fc"/><rect x="535.90" y="205.4" width="38.15" height="3.30" fill="#08306b"/><rect x="535.90" y="208.0" width="38.15" height="5.50" fill="#f7fbff"/><rect x="535.90" y="212.8" width="38.15" height="2.30" fill="#c6dbef"/><rect x="535.90" y="214.4" width="38.15" height="2.30" fill="#f7fbff"/><rect x="535.90" y="216.0" width="38.15" height="3.50" fill="#08306b"/><rect x="535.90" y="218.8" width="38.15" height="3.90" fill="#f7fbff"/><rect x="535.90" y="222.0" width="38.15" height="3.00" fill="#deebf7"/><rect x="535.90" y="224.3" width="38.15" height="3.20" fill="#f7fbff"/><rect x="535.90" y="226.8" width="38.15" height="3.30" fill="#08306b"/><rect x="535.90" y="229.4" width="38.15" height="4.10" fill="#f7fbff"/><rect x="535.90" y="232.8" width="38.15" height="3.90" fill="#eef5fc"/><rect x="535.90" y="236.0" width="38.15" height="5.50" fill="#08306b"/><rect x="535.90" y="240.8" width="38.15" height="3.80" fill="#f7fbff"/><rect x="535.90" y="243.9" width="38.15" height="5.40" fill="#eef5fc"/><rect x="535.90" y="248.6" width="38.15" height="3.90" fill="#08306b"/><rect x="535.90" y="251.8" width="38.15" height="3.90" fill="#f7fbff"/><rect x="535.90" y="255.0" width="38.15" height="3.90" fill="#deebf7"/><rect x="535.90" y="258.2" width="38.15" height="2.30" fill="#2171b5"/><rect x="535.90" y="259.8" width="38.15" height="4.00" fill="#08306b"/><rect x="535.90" y="263.1" width="38.15" height="3.60" fill="#f7fbff"/><rect x="535.90" y="266.0" width="38.15" height="3.80" fill="#deebf7"/><rect x="535.90" y="269.1" width="38.15" height="5.00" fill="#08306b"/><rect x="535.90" y="273.4" width="38.15" height="3.50" fill="#f7fbff"/><rect x="535.90" y="276.2" width="38.15" height="3.00" fill="#eef5fc"/><rect x="535.90" y="278.5" width="38.15" height="2.50" fill="#2171b5"/><rect x="535.90" y="280.3" width="38.15" height="5.00" fill="#08306b"/><rect x="535.90" y="284.6" width="38.15" height="3.70" fill="#f7fbff"/><rect x="535.90" y="287.6" width="38.15" height="2.90" fill="#eef5fc"/><rect x="535.90" y="289.8" width="38.15" height="1.90" fill="#9ecae1"/><rect x="535.90" y="291.0" width="38.15" height="5.30" fill="#08306b"/><rect x="535.90" y="295.6" width="38.15" height="4.70" fill="#f7fbff"/><rect x="535.90" y="299.6" width="38.15" height="2.40" fill="#eef5fc"/><rect x="535.90" y="301.3" width="38.15" height="2.50" fill="#2171b5"/><rect x="535.90" y="303.1" width="38.15" height="4.20" fill="#08306b"/><rect x="535.90" y="306.6" width="38.15" height="3.50" fill="#f7fbff"/><rect x="535.90" y="309.4" width="38.15" height="3.00" fill="#eef5fc"/><rect x="535.90" y="311.7" width="38.15" height="5.80" fill="#08306b"/><rect x="535.90" y="316.8" width="38.15" height="4.10" fill="#f7fbff"/><rect x="535.90" y="320.2" width="38.15" height="3.50" fill="#eef5fc"/><rect x="535.90" y="323.0" width="38.15" height="2.90" fill="#2171b5"/><rect x="535.90" y="325.2" width="38.15" height="4.00" fill="#08306b"/><rect x="535.90" y="328.5" width="38.15" height="2.50" fill="#f7fbff"/><rect x="535.90" y="330.3" width="38.15" height="2.90" fill="#eef5fc"/><rect x="535.90" y="332.5" width="38.15" height="7.00" fill="#08306b"/><rect x="535.90" y="338.8" width="38.15" height="4.10" fill="#f7fbff"/><rect x="535.90" y="342.2" width="38.15" height="1.80" fill="#c6dbef"/><rect x="535.90" y="343.3" width="38.15" height="3.00" fill="#2171b5"/><rect x="535.90" y="345.6" width="38.15" height="5.60" fill="#08306b"/><rect x="535.90" y="350.5" width="38.15" height="1.00" fill="#deebf7"/><rect x="573.35" y="24.0" width="38.15" height="1.80" fill="#f7fbff"/><rect x="573.35" y="25.1" width="38.15" height="6.70" fill="#08306b"/><rect x="573.35" y="31.1" width="38.15" height="6.40" fill="#f7fbff"/><rect x="573.35" y="36.8" width="38.15" height="1.90" fill="#08519c"/><rect x="573.35" y="38.0" width="38.15" height="3.50" fill="#08306b"/><rect x="573.35" y="40.8" width="38.15" height="6.90" fill="#f7fbff"/><rect x="573.35" y="47.0" width="38.15" height="2.50" fill="#2171b5"/><rect x="573.35" y="48.8" width="38.15" height="6.40" fill="#08306b"/><rect x="573.35" y="54.5" width="38.15" height="4.10" fill="#f7fbff"/><rect x="573.35" y="57.9" width="38.15" height="2.30" fill="#08519c"/><rect x="573.35" y="59.5" width="38.15" height="6.00" fill="#08306b"/><rect x="573.35" y="64.8" width="38.15" height="5.30" fill="#f7fbff"/><rect x="573.35" y="69.4" width="38.15" height="8.10" fill="#08306b"/><rect x="573.35" y="76.8" width="38.15" height="5.80" fill="#f7fbff"/><rect x="573.35" y="81.9" width="38.15" height="5.80" fill="#08306b"/><rect x="573.35" y="87.0" width="38.15" height="4.20" fill="#f7fbff"/><rect x="573.35" y="90.5" width="38.15" height="9.20" fill="#08306b"/><rect x="573.35" y="99.0" width="38.15" height="3.60" fill="#f7fbff"/><rect x="573.35" y="101.9" width="38.15" height="1.90" fill="#2171b5"/><rect x="573.35" y="103.1" width="38.15" height="7.00" fill="#08306b"/><rect x="573.35" y="109.4" width="38.15" height="4.70" fill="#f7fbff"/><rect x="573.35" y="113.4" width="38.15" height="7.00" fill="#08306b"/><rect x="573.35" y="119.7" width="38.15" height="4.60" fill="#f7fbff"/><rect x="573.35" y="123.6" width="38.15" height="7.60" fill="#08306b"/><rect x="573.35" y="130.5" width="38.15" height="5.20" fill="#f7fbff"/><rect x="573.35" y="135.0" width="38.15" height="1.90" fill="#2171b5"/><rect x="573.35" y="136.2" width="38.15" height="4.10" fill="#08306b"/><rect x="573.35" y="139.6" width="38.15" height="6.50" fill="#f7fbff"/><rect x="573.35" y="145.4" width="38.15" height="8.70" fill="#08306b"/><rect x="573.35" y="153.4" width="38.15" height="4.10" fill="#f7fbff"/><rect x="573.35" y="156.8" width="38.15" height="7.50" fill="#08306b"/><rect x="573.35" y="163.6" width="38.15" height="4.70" fill="#f7fbff"/><rect x="573.35" y="167.6" width="38.15" height="8.10" fill="#08306b"/><rect x="573.35" y="175.0" width="38.15" height="3.60" fill="#f7fbff"/><rect x="573.35" y="177.9" width="38.15" height="8.20" fill="#08306b"/><rect x="573.35" y="185.4" width="38.15" height="4.10" fill="#f7fbff"/><rect x="573.35" y="188.8" width="38.15" height="8.70" fill="#08306b"/><rect x="573.35" y="196.8" width="38.15" height="3.60" fill="#f7fbff"/><rect x="573.35" y="199.7" width="38.15" height="8.60" fill="#08306b"/><rect x="573.35" y="207.6" width="38.15" height="4.10" fill="#f7fbff"/><rect x="573.35" y="211.0" width="38.15" height="8.70" fill="#08306b"/><rect x="573.35" y="219.0" width="38.15" height="3.70" fill="#f7fbff"/><rect x="573.35" y="222.0" width="38.15" height="8.10" fill="#08306b"/><rect x="573.35" y="229.4" width="38.15" height="4.10" fill="#f7fbff"/><rect x="573.35" y="232.8" width="38.15" height="8.70" fill="#08306b"/><rect x="573.35" y="240.8" width="38.15" height="3.50" fill="#f7fbff"/><rect x="573.35" y="243.6" width="38.15" height="8.90" fill="#08306b"/><rect x="573.35" y="251.8" width="38.15" height="3.40" fill="#f7fbff"/><rect x="573.35" y="254.5" width="38.15" height="9.30" fill="#08306b"/><rect x="573.35" y="263.1" width="38.15" height="3.60" fill="#f7fbff"/><rect x="573.35" y="266.0" width="38.15" height="8.10" fill="#08306b"/><rect x="573.35" y="273.4" width="38.15" height="3.00" fill="#f7fbff"/><rect x="573.35" y="275.7" width="38.15" height="9.80" fill="#08306b"/><rect x="573.35" y="284.8" width="38.15" height="3.50" fill="#f7fbff"/><rect x="573.35" y="287.6" width="38.15" height="8.70" fill="#08306b"/><rect x="573.35" y="295.6" width="38.15" height="3.50" fill="#f7fbff"/><rect x="573.35" y="298.4" width="38.15" height="8.90" fill="#08306b"/><rect x="573.35" y="306.6" width="38.15" height="3.50" fill="#f7fbff"/><rect x="573.35" y="309.4" width="38.15" height="8.10" fill="#08306b"/><rect x="573.35" y="316.8" width="38.15" height="4.10" fill="#f7fbff"/><rect x="573.35" y="320.2" width="38.15" height="9.00" fill="#08306b"/><rect x="573.35" y="328.5" width="38.15" height="3.60" fill="#f7fbff"/><rect x="573.35" y="331.4" width="38.15" height="8.10" fill="#08306b"/><rect x="573.35" y="338.8" width="38.15" height="4.70" fill="#f7fbff"/><rect x="573.35" y="342.8" width="38.15" height="8.70" fill="#08306b"/><rect x="610.80" y="24.0" width="37.45" height="2.10" fill="#c6dbef"/><rect x="610.80" y="25.4" width="37.45" height="2.40" fill="#9ecae1"/><rect x="610.80" y="27.1" width="37.45" height="2.40" fill="#6b8fbf"/><rect x="610.80" y="28.8" width="37.45" height="3.00" fill="#08519c"/><rect x="610.80" y="31.1" width="37.45" height="2.10" fill="#9ecae1"/><rect x="610.80" y="32.5" width="37.45" height="3.90" fill="#c6dbef"/><rect x="610.80" y="35.7" width="37.45" height="2.00" fill="#9ecae1"/><rect x="610.80" y="37.0" width="37.45" height="1.60" fill="#deebf7"/><rect x="610.80" y="37.9" width="37.45" height="4.70" fill="#6baed6"/><rect x="610.80" y="41.9" width="37.45" height="1.80" fill="#9ecae1"/><rect x="610.80" y="43.0" width="37.45" height="1.90" fill="#deebf7"/><rect x="610.80" y="44.2" width="37.45" height="1.80" fill="#9ecae1"/><rect x="610.80" y="45.3" width="37.45" height="2.40" fill="#deebf7"/><rect x="610.80" y="47.0" width="37.45" height="3.60" fill="#9ecae1"/><rect x="610.80" y="49.9" width="37.45" height="2.20" fill="#6baed6"/><rect x="610.80" y="51.4" width="37.45" height="2.30" fill="#08519c"/><rect x="610.80" y="53.0" width="37.45" height="2.20" fill="#6baed6"/><rect x="610.80" y="54.5" width="37.45" height="2.40" fill="#c6dbef"/><rect x="610.80" y="56.2" width="37.45" height="2.40" fill="#f7fbff"/><rect x="610.80" y="57.9" width="37.45" height="3.50" fill="#6baed6"/><rect x="610.80" y="60.7" width="37.45" height="3.10" fill="#9ecae1"/><rect x="610.80" y="63.1" width="37.45" height="2.40" fill="#08519c"/><rect x="610.80" y="64.8" width="37.45" height="2.50" fill="#9ecae1"/><rect x="610.80" y="66.6" width="37.45" height="2.40" fill="#deebf7"/><rect x="610.80" y="68.3" width="37.45" height="1.80" fill="#c6dbef"/><rect x="610.80" y="69.4" width="37.45" height="1.80" fill="#f7fbff"/><rect x="610.80" y="70.5" width="37.45" height="1.90" fill="#6b8fbf"/><rect x="610.80" y="71.7" width="37.45" height="2.40" fill="#6baed6"/><rect x="610.80" y="73.4" width="37.45" height="1.80" fill="#9ecae1"/><rect x="610.80" y="74.5" width="37.45" height="3.00" fill="#6baed6"/><rect x="610.80" y="76.8" width="37.45" height="1.90" fill="#f7fbff"/><rect x="610.80" y="78.0" width="37.45" height="4.10" fill="#c6dbef"/><rect x="610.80" y="81.4" width="37.45" height="2.40" fill="#9ecae1"/><rect x="610.80" y="83.1" width="37.45" height="1.80" fill="#9aa5c8"/><rect x="610.80" y="84.2" width="37.45" height="1.80" fill="#9ecae1"/><rect x="610.80" y="85.3" width="37.45" height="2.40" fill="#4292c6"/><rect x="610.80" y="87.0" width="37.45" height="1.90" fill="#6baed6"/><rect x="610.80" y="88.2" width="37.45" height="3.00" fill="#deebf7"/><rect x="610.80" y="90.5" width="37.45" height="2.00" fill="#c6dbef"/><rect x="610.80" y="91.8" width="37.45" height="2.20" fill="#4292c6"/><rect x="610.80" y="93.3" width="37.45" height="3.00" fill="#6baed6"/><rect x="610.80" y="95.6" width="37.45" height="2.20" fill="#2171b5"/><rect x="610.80" y="97.1" width="37.45" height="2.30" fill="#9ecae1"/><rect x="610.80" y="98.7" width="37.45" height="2.20" fill="#f7fbff"/><rect x="610.80" y="100.2" width="37.45" height="3.60" fill="#c6dbef"/><rect x="610.80" y="103.1" width="37.45" height="2.40" fill="#2171b5"/><rect x="610.80" y="104.8" width="37.45" height="1.90" fill="#6baed6"/><rect x="610.80" y="106.0" width="37.45" height="2.60" fill="#08519c"/><rect x="610.80" y="107.9" width="37.45" height="2.20" fill="#9ecae1"/><rect x="610.80" y="109.4" width="37.45" height="4.70" fill="#deebf7"/><rect x="610.80" y="113.4" width="37.45" height="2.10" fill="#6b8fbf"/><rect x="610.80" y="114.8" width="37.45" height="1.80" fill="#9ecae1"/><rect x="610.80" y="115.9" width="37.45" height="1.80" fill="#2171b5"/><rect x="610.80" y="117.0" width="37.45" height="1.70" fill="#c6dbef"/><rect x="610.80" y="118.0" width="37.45" height="2.40" fill="#4a6fa8"/><rect x="610.80" y="119.7" width="37.45" height="3.50" fill="#c6dbef"/><rect x="610.80" y="122.5" width="37.45" height="2.10" fill="#2171b5"/><rect x="610.80" y="123.9" width="37.45" height="3.30" fill="#9ecae1"/><rect x="610.80" y="126.5" width="37.45" height="4.10" fill="#08519c"/><rect x="610.80" y="129.9" width="37.45" height="2.60" fill="#deebf7"/><rect x="610.80" y="131.8" width="37.45" height="2.80" fill="#6baed6"/><rect x="610.80" y="133.9" width="37.45" height="4.10" fill="#deebf7"/><rect x="610.80" y="137.3" width="37.45" height="2.40" fill="#6baed6"/><rect x="610.80" y="139.0" width="37.45" height="3.70" fill="#deebf7"/><rect x="610.80" y="142.0" width="37.45" height="2.40" fill="#c6dbef"/><rect x="610.80" y="143.7" width="37.45" height="2.40" fill="#deebf7"/><rect x="610.80" y="145.4" width="37.45" height="2.40" fill="#9ecae1"/><rect x="610.80" y="147.1" width="37.45" height="1.90" fill="#2171b5"/><rect x="610.80" y="148.3" width="37.45" height="2.40" fill="#9ecae1"/><rect x="610.80" y="150.0" width="37.45" height="2.40" fill="#6baed6"/><rect x="610.80" y="151.7" width="37.45" height="1.80" fill="#08519c"/><rect x="610.80" y="152.8" width="37.45" height="2.40" fill="#9ecae1"/><rect x="610.80" y="154.5" width="37.45" height="3.00" fill="#deebf7"/><rect x="610.80" y="156.8" width="37.45" height="2.40" fill="#9ecae1"/><rect x="610.80" y="158.5" width="37.45" height="2.40" fill="#4a6fa8"/><rect x="610.80" y="160.2" width="37.45" height="2.40" fill="#9ecae1"/><rect x="610.80" y="161.9" width="37.45" height="2.40" fill="#2171b5"/><rect x="610.80" y="163.6" width="37.45" height="3.00" fill="#f7fbff"/><rect x="610.80" y="165.9" width="37.45" height="2.40" fill="#c6dbef"/><rect x="610.80" y="167.6" width="37.45" height="2.40" fill="#6baed6"/><rect x="610.80" y="169.3" width="37.45" height="1.90" fill="#2171b5"/><rect x="610.80" y="170.5" width="37.45" height="1.80" fill="#9ecae1"/><rect x="610.80" y="171.6" width="37.45" height="1.90" fill="#08519c"/><rect x="610.80" y="172.8" width="37.45" height="2.40" fill="#6baed6"/><rect x="610.80" y="174.5" width="37.45" height="2.40" fill="#deebf7"/><rect x="610.80" y="176.2" width="37.45" height="2.90" fill="#c6dbef"/><rect x="610.80" y="178.4" width="37.45" height="3.60" fill="#6baed6"/><rect x="610.80" y="181.3" width="37.45" height="2.80" fill="#c6dbef"/><rect x="610.80" y="183.4" width="37.45" height="2.10" fill="#2171b5"/><rect x="610.80" y="184.8" width="37.45" height="3.60" fill="#deebf7"/><rect x="610.80" y="187.7" width="37.45" height="1.80" fill="#6baed6"/><rect x="610.80" y="188.8" width="37.45" height="2.40" fill="#4292c6"/><rect x="610.80" y="190.5" width="37.45" height="2.50" fill="#6baed6"/><rect x="610.80" y="192.3" width="37.45" height="1.80" fill="#2171b5"/><rect x="610.80" y="193.4" width="37.45" height="2.40" fill="#c6dbef"/><rect x="610.80" y="195.1" width="37.45" height="2.40" fill="#4292c6"/><rect x="610.80" y="196.8" width="37.45" height="1.90" fill="#2171b5"/><rect x="610.80" y="198.0" width="37.45" height="2.90" fill="#deebf7"/><rect x="610.80" y="200.2" width="37.45" height="2.50" fill="#6baed6"/><rect x="610.80" y="202.0" width="37.45" height="1.70" fill="#2171b5"/><rect x="610.80" y="203.0" width="37.45" height="2.50" fill="#9ecae1"/><rect x="610.80" y="204.8" width="37.45" height="2.40" fill="#4292c6"/><rect x="610.80" y="206.5" width="37.45" height="1.80" fill="#2171b5"/><rect x="610.80" y="207.6" width="37.45" height="3.00" fill="#deebf7"/><rect x="610.80" y="209.9" width="37.45" height="2.40" fill="#9ecae1"/><rect x="610.80" y="211.6" width="37.45" height="1.90" fill="#08519c"/><rect x="610.80" y="212.8" width="37.45" height="2.90" fill="#9ecae1"/><rect x="610.80" y="215.0" width="37.45" height="1.90" fill="#2171b5"/><rect x="610.80" y="216.2" width="37.45" height="2.90" fill="#6baed6"/><rect x="610.80" y="218.4" width="37.45" height="1.90" fill="#2171b5"/><rect x="610.80" y="219.6" width="37.45" height="2.40" fill="#f7fbff"/><rect x="610.80" y="221.3" width="37.45" height="3.10" fill="#9ecae1"/><rect x="610.80" y="223.7" width="37.45" height="2.40" fill="#2171b5"/><rect x="610.80" y="225.4" width="37.45" height="2.40" fill="#9ecae1"/><rect x="610.80" y="227.1" width="37.45" height="1.90" fill="#6baed6"/><rect x="610.80" y="228.3" width="37.45" height="2.10" fill="#08519c"/><rect x="610.80" y="229.7" width="37.45" height="2.10" fill="#f7fbff"/><rect x="610.80" y="231.1" width="37.45" height="5.30" fill="#c6dbef"/><rect x="610.80" y="235.7" width="37.45" height="2.40" fill="#4a6fa8"/><rect x="610.80" y="237.4" width="37.45" height="2.20" fill="#9ecae1"/><rect x="610.80" y="238.9" width="37.45" height="2.30" fill="#2171b5"/><rect x="610.80" y="240.5" width="37.45" height="3.80" fill="#deebf7"/><rect x="610.80" y="243.6" width="37.45" height="1.90" fill="#6baed6"/><rect x="610.80" y="244.8" width="37.45" height="2.40" fill="#4a6fa8"/><rect x="610.80" y="246.5" width="37.45" height="3.50" fill="#6baed6"/><rect x="610.80" y="249.3" width="37.45" height="2.40" fill="#08519c"/><rect x="610.80" y="251.0" width="37.45" height="1.90" fill="#9ecae1"/><rect x="610.80" y="252.2" width="37.45" height="3.50" fill="#deebf7"/><rect x="610.80" y="255.0" width="37.45" height="2.40" fill="#2171b5"/><rect x="610.80" y="256.7" width="37.45" height="2.40" fill="#08519c"/><rect x="610.80" y="258.4" width="37.45" height="2.50" fill="#6baed6"/><rect x="610.80" y="260.2" width="37.45" height="3.60" fill="#9ecae1"/><rect x="610.80" y="263.1" width="37.45" height="2.80" fill="#f7fbff"/><rect x="610.80" y="265.2" width="37.45" height="3.20" fill="#4a7fb5"/><rect x="610.80" y="267.7" width="37.45" height="1.80" fill="#9ecae1"/><rect x="610.80" y="268.8" width="37.45" height="3.60" fill="#6baed6"/><rect x="610.80" y="271.7" width="37.45" height="2.40" fill="#9ecae1"/><rect x="610.80" y="273.4" width="37.45" height="1.80" fill="#c6dbef"/><rect x="610.80" y="274.5" width="37.45" height="3.00" fill="#6baed6"/><rect x="610.80" y="276.8" width="37.45" height="1.80" fill="#9ecae1"/><rect x="610.80" y="277.9" width="37.45" height="1.90" fill="#2171b5"/><rect x="610.80" y="279.1" width="37.45" height="1.80" fill="#9ecae1"/><rect x="610.80" y="280.2" width="37.45" height="3.60" fill="#4292c6"/><rect x="610.80" y="283.1" width="37.45" height="2.40" fill="#c6dbef"/><rect x="610.80" y="284.8" width="37.45" height="2.40" fill="#9ecae1"/><rect x="610.80" y="286.5" width="37.45" height="1.80" fill="#f7fbff"/><rect x="610.80" y="287.6" width="37.45" height="3.60" fill="#4a6fa8"/><rect x="610.80" y="290.5" width="37.45" height="1.80" fill="#9ecae1"/><rect x="610.80" y="291.6" width="37.45" height="2.40" fill="#9aa5c8"/><rect x="610.80" y="293.3" width="37.45" height="2.40" fill="#c6dbef"/><rect x="610.80" y="295.0" width="37.45" height="2.40" fill="#6baed6"/><rect x="610.80" y="296.7" width="37.45" height="2.70" fill="#deebf7"/><rect x="610.80" y="298.7" width="37.45" height="1.80" fill="#2171b5"/><rect x="610.80" y="299.8" width="37.45" height="2.20" fill="#9ecae1"/><rect x="610.80" y="301.3" width="37.45" height="2.50" fill="#6baed6"/><rect x="610.80" y="303.1" width="37.45" height="1.90" fill="#9ecae1"/><rect x="610.80" y="304.3" width="37.45" height="3.00" fill="#2171b5"/><rect x="610.80" y="306.6" width="37.45" height="2.40" fill="#c6dbef"/><rect x="610.80" y="308.3" width="37.45" height="2.40" fill="#9ecae1"/><rect x="610.80" y="310.0" width="37.45" height="2.40" fill="#6baed6"/><rect x="610.80" y="311.7" width="37.45" height="1.80" fill="#9ecae1"/><rect x="610.80" y="312.8" width="37.45" height="3.00" fill="#4292c6"/><rect x="610.80" y="315.1" width="37.45" height="2.40" fill="#2171b5"/><rect x="610.80" y="316.8" width="37.45" height="2.40" fill="#c6dbef"/><rect x="610.80" y="318.5" width="37.45" height="2.40" fill="#6baed6"/><rect x="610.80" y="320.2" width="37.45" height="2.20" fill="#c6dbef"/><rect x="610.80" y="321.7" width="37.45" height="3.60" fill="#2171b5"/><rect x="610.80" y="324.6" width="37.45" height="2.40" fill="#9ecae1"/><rect x="610.80" y="326.3" width="37.45" height="2.90" fill="#4a7fb5"/><rect x="610.80" y="328.5" width="37.45" height="2.50" fill="#f7fbff"/><rect x="610.80" y="330.3" width="37.45" height="2.40" fill="#4292c6"/><rect x="610.80" y="332.0" width="37.45" height="1.80" fill="#9ecae1"/><rect x="610.80" y="333.1" width="37.45" height="1.80" fill="#4292c6"/><rect x="610.80" y="334.2" width="37.45" height="2.50" fill="#9ecae1"/><rect x="610.80" y="336.0" width="37.45" height="1.80" fill="#2171b5"/><rect x="610.80" y="337.1" width="37.45" height="2.10" fill="#08519c"/><rect x="610.80" y="338.5" width="37.45" height="2.10" fill="#c6dbef"/><rect x="610.80" y="339.9" width="37.45" height="3.60" fill="#9ecae1"/><rect x="610.80" y="342.8" width="37.45" height="2.40" fill="#2171b5"/><rect x="610.80" y="344.5" width="37.45" height="1.80" fill="#9ecae1"/><rect x="610.80" y="345.6" width="37.45" height="3.60" fill="#2171b5"/><rect x="610.80" y="348.5" width="37.45" height="3.00" fill="#9ecae1"/><text x="456.8" y="28.8" font-size="10" text-anchor="end" fill="#111">720</text><text x="456.8" y="109.19999999999999" font-size="10" text-anchor="end" fill="#111">540</text><text x="456.8" y="189.7" font-size="10" text-anchor="end" fill="#111">360</text><text x="456.8" y="270.5" font-size="10" text-anchor="end" fill="#111">180</text><text x="456.8" y="351.20000000000005" font-size="10" text-anchor="end" fill="#111">1</text><text x="430.5" y="192.1" font-size="10" text-anchor="middle" fill="#111" transform="rotate(-90 430.5 192.1)">Spike encoded input</text><text x="474.9" y="364.3" font-size="10" text-anchor="middle" fill="#111">1</text><text x="514.0" y="364.3" font-size="10" text-anchor="middle" fill="#111">2</text><text x="552.9" y="364.3" font-size="10" text-anchor="middle" fill="#111">3</text><text x="592.3" y="364.3" font-size="10" text-anchor="middle" fill="#111">4</text><text x="631.7" y="364.3" font-size="10" text-anchor="middle" fill="#111">5</text><text x="558.8" y="374.1" font-size="10" text-anchor="middle" fill="#111">LTS neurons</text><defs><linearGradient id="cb" x1="0" y1="0" x2="0" y2="1"><stop offset="0" stop-color="#f7fbff"/><stop offset="0.125" stop-color="#deebf7"/><stop offset="0.25" stop-color="#c6dbef"/><stop offset="0.375" stop-color="#9ecae1"/><stop offset="0.5" stop-color="#6baed6"/><stop offset="0.625" stop-color="#4292c6"/><stop offset="0.75" stop-color="#2171b5"/><stop offset="0.875" stop-color="#08519c"/><stop offset="1" stop-color="#08306b"/></linearGradient></defs><rect x="654.5" y="24.0" width="12.3" height="327.8" fill="url(#cb)"/><text x="670.8" y="28.7" font-size="10" text-anchor="start" fill="#111">0</text><text x="668.3" y="189.9" font-size="10" text-anchor="start" fill="#111">-0.5</text><text x="669.6" y="349.7" font-size="10" text-anchor="start" fill="#111">-1</text>
</svg>
</body></html>
